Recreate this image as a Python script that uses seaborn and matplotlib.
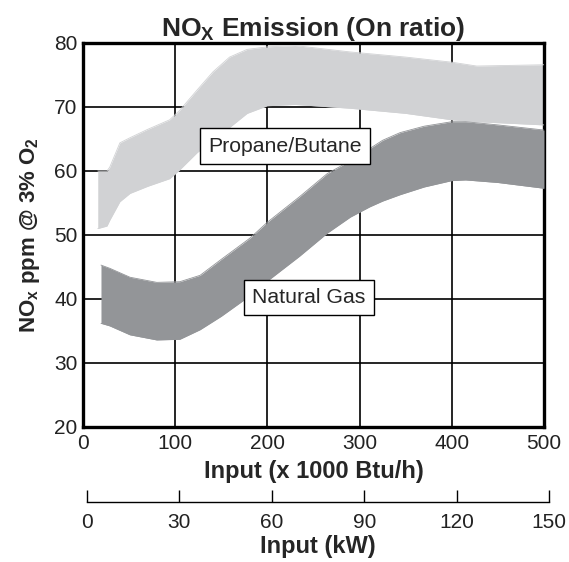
import matplotlib
matplotlib.use("Agg")
import matplotlib.pyplot as plt
import seaborn as sns
import pandas as pd

# band edges (x in 1000 Btu/h, y in ppm)
propane_x = [16, 26, 29, 40, 51, 70, 94, 105, 124, 141, 159, 178, 200, 230, 290, 350, 400, 427, 500]
propane_hi = [60, 60, 60.6, 64.4, 65.2, 66.5, 68, 69.5, 72.7, 75.5, 77.8, 79, 79.4, 79.6, 78.6, 77.8, 77, 76.4, 76.6]
propane_lo = [51, 51.4, 52.3, 55.2, 56.5, 57.6, 58.8, 60.2, 62.9, 64.8, 66.8, 69, 70.2, 70.4, 69.8, 69, 68, 67.7, 67.2]

gas_x = [19.5, 29, 51, 80, 105, 127, 150, 181, 200, 235, 265, 290, 311, 325, 344, 370, 400, 415, 450, 500]
gas_hi = [45.3, 44.8, 43.4, 42.6, 42.7, 43.7, 46.2, 49.5, 52, 56, 59.6, 61.6, 63.5, 64.8, 66, 67, 67.7, 67.7, 67.2, 66.4]
gas_lo = [36.2, 35.8, 34.4, 33.6, 33.7, 35.2, 37.3, 40.5, 42.8, 46.7, 50.3, 52.8, 54.4, 55.3, 56.3, 57.5, 58.5, 58.6, 58.2, 57.3]

btu_ticks = [0, 100, 200, 300, 400, 500]
ppm_ticks = [20, 30, 40, 50, 60, 70, 80]
kw_ticks = [0, 30, 60, 90, 120, 150]

propane_color = "#d1d2d4"
gas_color = "#939598"

sns.set_theme(style="white")
plt.rcParams['font.family'] = ['Liberation Sans', 'DejaVu Sans']
plt.rcParams['mathtext.fontset'] = 'custom'
plt.rcParams['mathtext.rm'] = 'Liberation Sans'
plt.rcParams['mathtext.bf'] = 'Liberation Sans:bold'
plt.rcParams['mathtext.default'] = 'regular'

fig = plt.figure(figsize=(5.69, 5.62), dpi=100)
ax = fig.add_axes([83 / 569, 135 / 562, 461 / 569, 384 / 562])

propane = pd.DataFrame({'x': propane_x, 'hi': propane_hi, 'lo': propane_lo})
gas = pd.DataFrame({'x': gas_x, 'hi': gas_hi, 'lo': gas_lo})

ax.fill_between(propane['x'], propane['lo'], propane['hi'], color=propane_color, lw=0, zorder=2)
ax.fill_between(gas['x'], gas['lo'], gas['hi'], color=gas_color, lw=0, zorder=3)
for df, c in [(propane, propane_color), (gas, gas_color)]:
    sns.lineplot(data=df, x='x', y='hi', color=c, lw=0.6, ax=ax, zorder=3)
    sns.lineplot(data=df, x='x', y='lo', color=c, lw=0.6, ax=ax, zorder=3)

ax.set_xlim(0, 500)
ax.set_ylim(20, 80)
ax.set_xticks(btu_ticks)
ax.set_yticks(ppm_ticks)
ax.grid(True, color='black', lw=1.2)
ax.set_axisbelow(True)
for s in ax.spines.values():
    s.set_visible(True)
    s.set_color('black')
    s.set_linewidth(2.4)
ax.tick_params(length=0, labelsize=15, colors='#222222', pad=4)
ax.tick_params(axis='x', pad=5)

ax.set_title(r"NO$_{X}$ Emission (On ratio)", fontsize=19, fontweight='bold', pad=5)
ax.set_xlabel("Input (x 1000 Btu/h)", fontsize=17, fontweight='bold', labelpad=5)
ax.set_ylabel(r"NO$_{x}$ ppm @ 3% O$_{2}$", fontsize=16, fontweight='bold', labelpad=9)

box = dict(boxstyle='square,pad=0.38', fc='white', ec='black', lw=1)
ax.text(219, 63.9, "Propane/Butane", ha='center', va='center', fontsize=15.3, bbox=box, zorder=5)
ax.text(245, 40.2, "Natural Gas", ha='center', va='center', fontsize=15.3, bbox=box, zorder=5)

ax2 = fig.add_axes([87 / 569, 60 / 562, 462 / 569, 0.001])
ax2.set_xlim(0, 150)
ax2.set_xticks(kw_ticks)
ax2.set_yticks([])
for side in ['left', 'right', 'top']:
    ax2.spines[side].set_visible(False)
ax2.spines['bottom'].set_color('black')
ax2.spines['bottom'].set_linewidth(1)
ax2.tick_params(axis='x', direction='in', length=9, width=1, color='black',
                labelsize=15, labelcolor='#222222', pad=8, bottom=True)
ax2.set_xlabel("Input (kW)", fontsize=17, fontweight='bold', labelpad=2)

fig.savefig("out.png", dpi=100)
